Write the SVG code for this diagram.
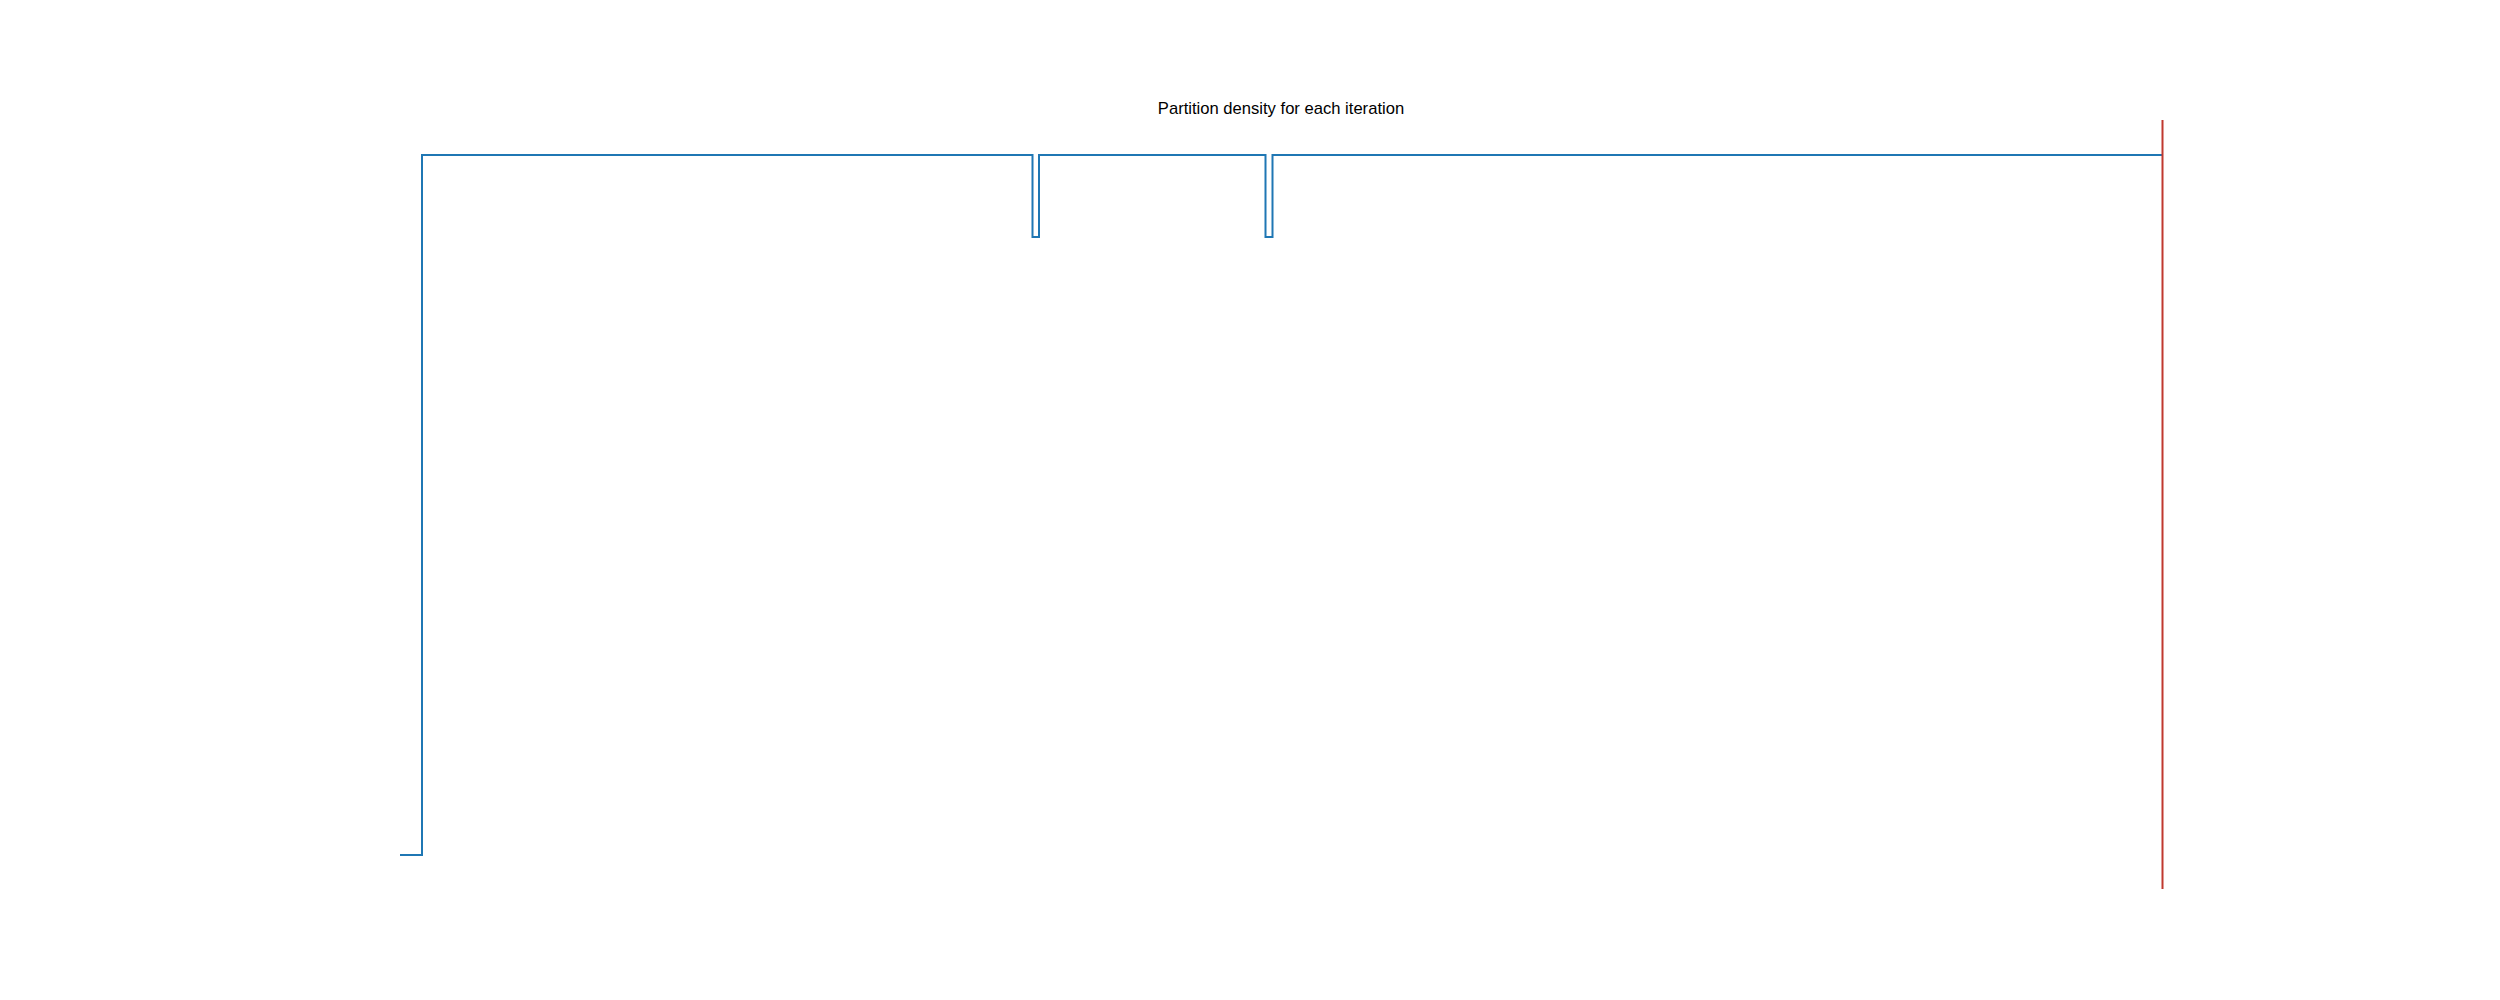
<svg xmlns="http://www.w3.org/2000/svg" width="2500" height="1000" viewBox="0 0 2500 1000">
<style>
.title{font-family:"Liberation Sans",Arial,sans-serif;font-size:16.6px;fill:#000;}
.series{fill:none;stroke:#1f77b4;stroke-width:2;stroke-linejoin:miter;}
.marker-line{fill:none;stroke:#c0392f;stroke-width:2;}
</style>
<rect x="0" y="0" width="2500" height="1000" fill="#ffffff"/>
<g id="title">
<text class="title" x="1281" y="114" text-anchor="middle">Partition density for each iteration</text>
</g>
<g id="plot">
<path id="density-line" class="series" d="M400,855 H422 V155 H1032.5 V237 H1039 V155 H1265.5 V237 H1272.5 V155 H2162.5"/>
<line id="red-line" class="marker-line" x1="2162.5" y1="120" x2="2162.5" y2="889"/>
</g>
</svg>
